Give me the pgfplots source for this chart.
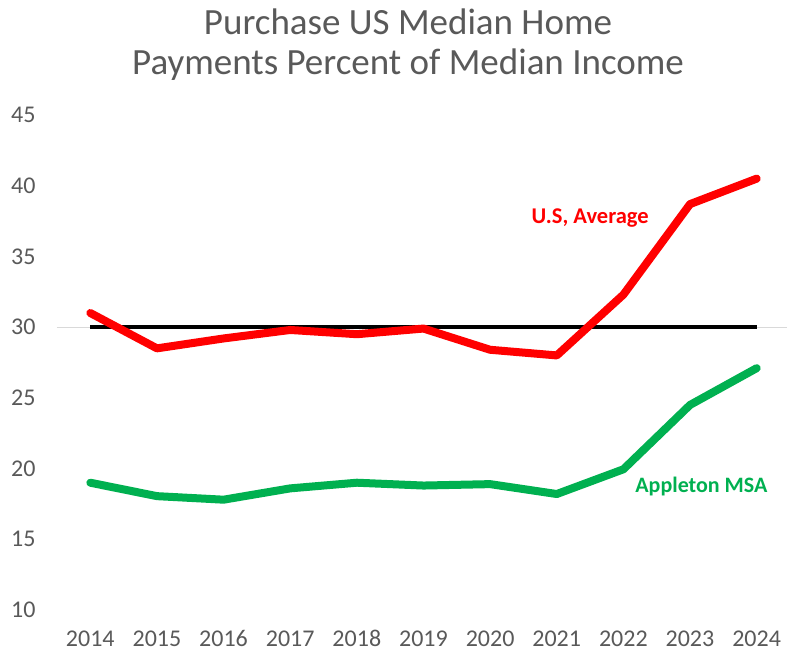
\documentclass[border=0pt]{standalone}
\usepackage{fontspec}
\setmainfont{Carlito}
\usepackage{pgfplots}
\pgfplotsset{compat=1.18}
\definecolor{txtGray}{HTML}{595959}
\definecolor{usRed}{HTML}{FF0000}
\definecolor{appGreen}{HTML}{00B050}
\definecolor{gridGray}{HTML}{D9D9D9}

\begin{document}
\begin{tikzpicture}[x=1pt,y=1pt]
\path[use as bounding box] (0,0) rectangle (787,654);
\begin{axis}[
  scale only axis,
  at={(57pt,44pt)}, anchor=south west,
  width=731pt, height=495pt,
  xmin=2013.5, xmax=2024.47,
  ymin=10, ymax=45,
  axis line style={draw=none},
  tick style={draw=none},
  xtick={2014,...,2024},
  ytick={10,15,...,45},
  /pgf/number format/assume math mode=true,
  x tick label style={/pgf/number format/1000 sep={}, font=\fontsize{24}{28}\selectfont, text=txtGray, yshift=-17pt},
  y tick label style={font=\fontsize{24}{28}\selectfont, text=txtGray, xshift=-18pt},
  clip=false,
]
% faint gridline at 30
\addplot[gridGray, line width=1pt] coordinates {(2013.5,30) (2024.47,30)};
% 30 percent reference
\addplot[black, line width=4pt] coordinates {(2014,30) (2024,30)};
% U.S. average
\addplot[usRed, line width=8pt, line cap=round, line join=round] coordinates {
  (2014,31.0) (2015,28.5) (2016,29.2) (2017,29.8) (2018,29.5) (2019,29.9)
  (2020,28.4) (2021,28.0) (2022,32.3) (2023,38.7) (2024,40.5)};
% Appleton MSA
\addplot[appGreen, line width=8pt, line cap=round, line join=round] coordinates {
  (2014,19.0) (2015,18.05) (2016,17.8) (2017,18.6) (2018,19.0) (2019,18.8)
  (2020,18.9) (2021,18.2) (2022,19.95) (2023,24.5) (2024,27.1)};
\node[text=usRed, font=\fontsize{22.5}{26}\selectfont\bfseries] at (axis cs:2021.5,37.7) {U.S, Average};
\node[text=appGreen, font=\fontsize{22}{26}\selectfont\bfseries] at (axis cs:2023.17,18.7) {Appleton MSA};
\end{axis}
\node[text=txtGray, font=\fontsize{37}{40}\selectfont, align=center] at (408,609) {Purchase US Median Home\\Payments Percent of Median Income};
\end{tikzpicture}
\end{document}
